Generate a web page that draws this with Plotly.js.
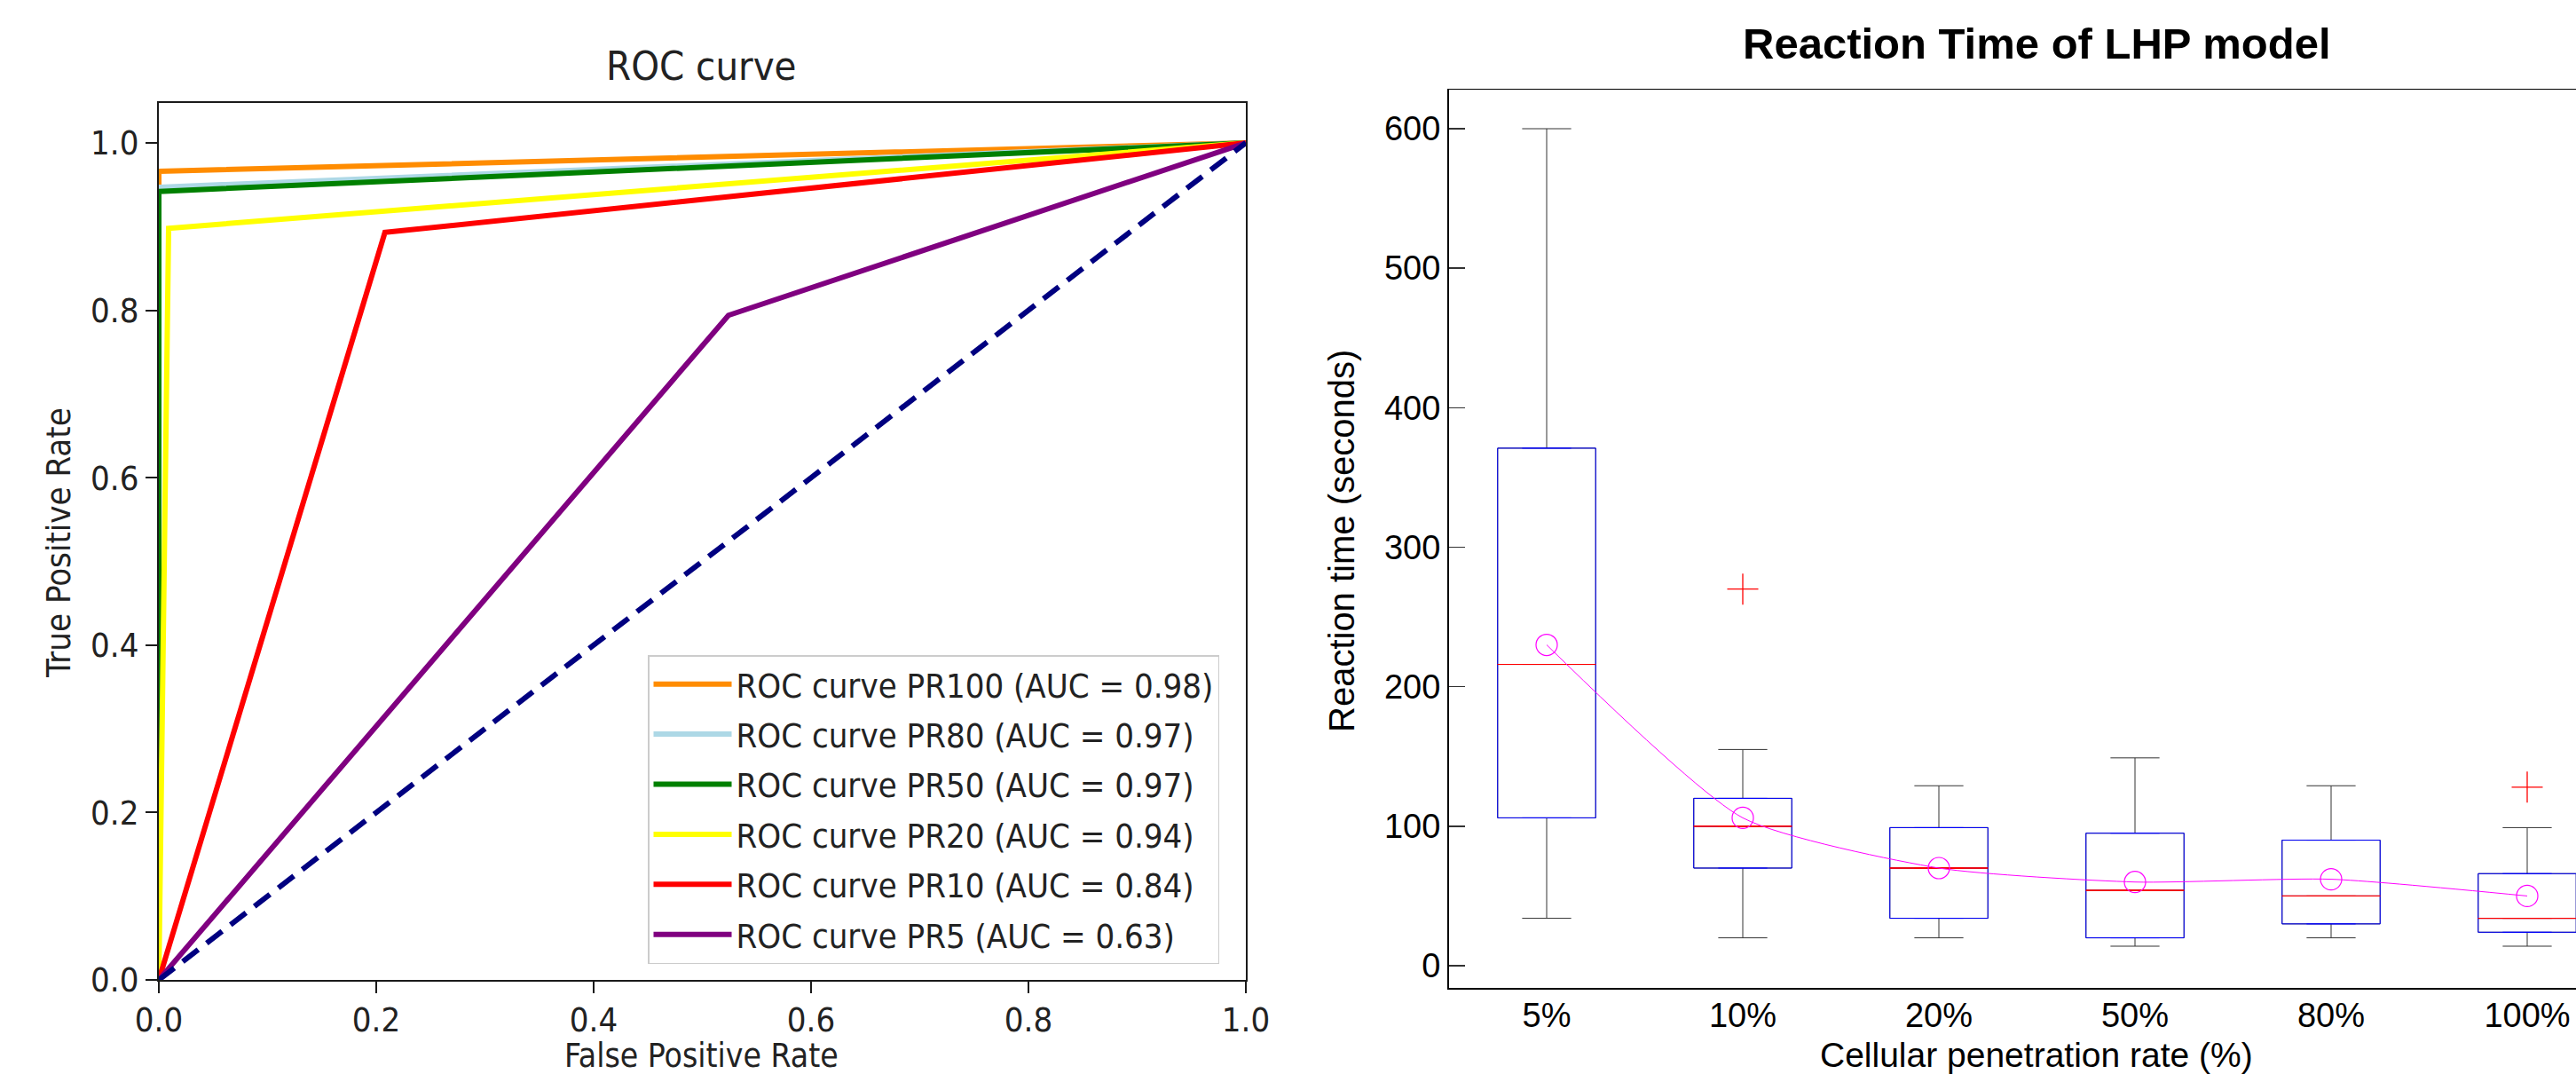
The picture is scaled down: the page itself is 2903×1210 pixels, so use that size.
<!DOCTYPE html>
<html>
<head>
<meta charset="utf-8">
<script src="https://cdn.plot.ly/plotly-3.0.1.min.js"></script>
<style>
  html, body { margin: 0; padding: 0; background: #ffffff; overflow: hidden; }
  #chart { width: 2960px; height: 1210px; }
</style>
</head>
<body>
<div id="chart"></div>
<script>
// ---------------- ROC curve data ----------------
const rocNames = [
  'ROC curve PR100 (AUC = 0.98)',
  'ROC curve PR80 (AUC = 0.97)',
  'ROC curve PR50 (AUC = 0.97)',
  'ROC curve PR20 (AUC = 0.94)',
  'ROC curve PR10 (AUC = 0.84)',
  'ROC curve PR5 (AUC = 0.63)'
];
const fprPR100 = [0, 0, 1];
const tprPR100 = [0, 0.966, 1];
const fprPR80 = [0, 0, 1];
const tprPR80 = [0, 0.947, 1];
const fprPR50 = [0, 0, 1];
const tprPR50 = [0, 0.942, 1];
const fprPR20 = [0, 0.009, 1];
const tprPR20 = [0, 0.898, 1];
const fprPR10 = [0, 0.208, 1];
const tprPR10 = [0, 0.893, 1];
const fprPR5 = [0, 0.524, 1];
const tprPR5 = [0, 0.794, 1];
const chanceX = [0, 1];
const chanceY = [0, 1];
const rocTicks = [0, 0.2, 0.4, 0.6, 0.8, 1.0];

// ---------------- Reaction time data ----------------
const categories = ['5%', '10%', '20%', '50%', '80%', '100%'];
const q1 = [106, 70, 34, 20, 30, 24];
const medians = [216, 100, 70, 54, 50, 34];
const q3 = [371, 120, 99, 95, 90, 66];
const lowerWhisker = [34, 20, 20, 14, 20, 14];
const upperWhisker = [600, 155, 129, 149, 129, 99];
const means = [230, 106, 70, 60, 62, 50];
const outlierCats = ['10%', '100%'];
const outlierVals = [270, 128];
const rtTicks = [0, 100, 200, 300, 400, 500, 600];

// ---------------- styles / layout ----------------
const W = 2960, H = 1210;
const px = v => v / W;
const py = v => (H - v) / H;
const rocFont = '"DejaVu Sans Condensed", "DejaVu Sans", sans-serif';
const rtFont = '"Liberation Sans", Arial, sans-serif';
const rocColors = ['#ff8c00', '#add8e6', '#008000', '#ffff00', '#ff0000', '#800080'];
const rocX = [fprPR100, fprPR80, fprPR50, fprPR20, fprPR10, fprPR5];
const rocY = [tprPR100, tprPR80, tprPR50, tprPR20, tprPR10, tprPR5];

const traces = [];
rocNames.forEach((name, i) => {
  traces.push({
    type: 'scatter', mode: 'lines', x: rocX[i], y: rocY[i], name: name,
    legendgroup: 'g' + i,
    line: { color: rocColors[i], width: 6 },
    xaxis: 'x', yaxis: 'y', hoverinfo: 'skip'
  });
});
traces.push({
  type: 'scatter', mode: 'lines', x: chanceX, y: chanceY, showlegend: false,
  legendgroup: 'chance',
  line: { color: '#000080', width: 6, dash: '22px,12px' },
  xaxis: 'x', yaxis: 'y', hoverinfo: 'skip'
});

// whiskers (black)
traces.push({
  type: 'box', x: categories, q1: q1, median: medians, q3: q3,
  lowerfence: lowerWhisker, upperfence: upperWhisker,
  width: 0.5, whiskerwidth: 0.5, boxpoints: false,
  line: { color: '#333333', width: 1 }, fillcolor: 'rgba(0,0,0,0)',
  showlegend: false, xaxis: 'x2', yaxis: 'y2', hoverinfo: 'skip'
});
// boxes (blue)
traces.push({
  type: 'box', x: categories, q1: q1, median: medians, q3: q3,
  lowerfence: q1, upperfence: q3,
  width: 0.5, whiskerwidth: 0.5, boxpoints: false,
  line: { color: '#0000ff', width: 1 }, fillcolor: 'rgba(0,0,0,0)',
  showlegend: false, xaxis: 'x2', yaxis: 'y2', hoverinfo: 'skip'
});
// medians (red)
traces.push({
  type: 'box', x: categories, q1: medians, median: medians, q3: medians,
  lowerfence: medians, upperfence: medians,
  width: 0.5, whiskerwidth: 0.5, boxpoints: false,
  line: { color: '#ff0000', width: 1 }, fillcolor: 'rgba(0,0,0,0)',
  showlegend: false, xaxis: 'x2', yaxis: 'y2', hoverinfo: 'skip'
});
// outliers
traces.push({
  type: 'scatter', mode: 'markers', x: outlierCats, y: outlierVals,
  marker: { symbol: 'cross-thin-open', size: 25, color: '#ff0000', line: { color: '#ff0000', width: 1.3 } },
  showlegend: false, xaxis: 'x2', yaxis: 'y2', hoverinfo: 'skip', cliponaxis: false
});
// means
traces.push({
  type: 'scatter', mode: 'lines+markers', x: categories, y: means,
  line: { color: '#ff00ff', width: 1, shape: 'spline', smoothing: 0.6 },
  marker: { symbol: 'circle-open', size: 24, color: '#ff00ff', line: { color: '#ff00ff', width: 1.2 } },
  showlegend: false, xaxis: 'x2', yaxis: 'y2', hoverinfo: 'skip'
});

const rocAxisCommon = {
  showgrid: false, zeroline: false, showline: true, mirror: true,
  linecolor: '#1a1a1a', linewidth: 2, ticks: 'outside', ticklen: 13, tickwidth: 2,
  tickcolor: '#1a1a1a', tickformat: '.1f',
  tickfont: { family: rocFont, size: 38, color: '#222222' }
};

const layout = {
  width: W, height: H,
  margin: { l: 0, r: 0, t: 0, b: 0, pad: 0 },
  paper_bgcolor: '#ffffff', plot_bgcolor: '#ffffff',
  boxmode: 'overlay',
  xaxis: Object.assign({}, rocAxisCommon, {
    domain: [px(179), px(1404)], range: [0, 1], tickvals: rocTicks, anchor: 'y',
    ticklabelstandoff: -3
  }),
  yaxis: Object.assign({}, rocAxisCommon, {
    domain: [py(1104), py(116)], range: [0, 1.0477], tickvals: rocTicks, anchor: 'x'
  }),
  xaxis2: {
    domain: [px(1632.5), px(2958.5)], range: [-0.5, 5.5], anchor: 'y2',
    type: 'category', categoryorder: 'array', categoryarray: categories,
    showgrid: false, zeroline: false, showline: true, mirror: true,
    linecolor: '#000000', linewidth: 1.5, ticks: '', ticklabelstandoff: -3,
    tickfont: { family: rtFont, size: 38, color: '#000000' }
  },
  yaxis2: {
    domain: [py(1113), py(101)], range: [-15.9, 628], anchor: 'x2',
    tickvals: rtTicks,
    showgrid: false, zeroline: false, showline: true, mirror: true,
    linecolor: '#000000', linewidth: 1.5, ticks: 'inside', ticklen: 18, tickwidth: 1.5,
    tickcolor: '#333333',
    tickfont: { family: rtFont, size: 38, color: '#000000' }
  },
  legend: {
    x: px(1374), xanchor: 'right', y: py(1086), yanchor: 'bottom',
    bgcolor: 'rgba(255,255,255,0.8)', bordercolor: '#cccccc', borderwidth: 1.5,
    font: { family: rocFont, size: 38, color: '#222222' },
    itemwidth: 88, tracegroupgap: 4, traceorder: 'grouped'
  },
  annotations: [
    { text: 'ROC curve', x: px(790), y: py(74.5), xref: 'paper', yref: 'paper',
      xanchor: 'center', yanchor: 'middle', showarrow: false,
      font: { family: rocFont, size: 45, color: '#222222' } },
    { text: 'False Positive Rate', x: px(790), y: py(1189), xref: 'paper', yref: 'paper',
      xanchor: 'center', yanchor: 'middle', showarrow: false,
      font: { family: rocFont, size: 37, color: '#222222' } },
    { text: 'True Positive Rate', x: px(66), y: py(612), xref: 'paper', yref: 'paper',
      xanchor: 'center', yanchor: 'middle', showarrow: false, textangle: -90,
      font: { family: rocFont, size: 38, color: '#222222' } },
    { text: '<b>Reaction Time of LHP model</b>', x: px(2295), y: py(49.5), xref: 'paper', yref: 'paper',
      xanchor: 'center', yanchor: 'middle', showarrow: false,
      font: { family: rtFont, size: 49, color: '#000000' } },
    { text: 'Reaction time (seconds)', x: px(1512), y: py(610), xref: 'paper', yref: 'paper',
      xanchor: 'center', yanchor: 'middle', showarrow: false, textangle: -90,
      font: { family: rtFont, size: 40, color: '#000000' } },
    { text: 'Cellular penetration rate (%)', x: px(2295), y: py(1188.5), xref: 'paper', yref: 'paper',
      xanchor: 'center', yanchor: 'middle', showarrow: false,
      font: { family: rtFont, size: 39, color: '#000000' } }
  ]
};

Plotly.newPlot('chart', traces, layout, { staticPlot: true, displayModeBar: false });
</script>
</body>
</html>
